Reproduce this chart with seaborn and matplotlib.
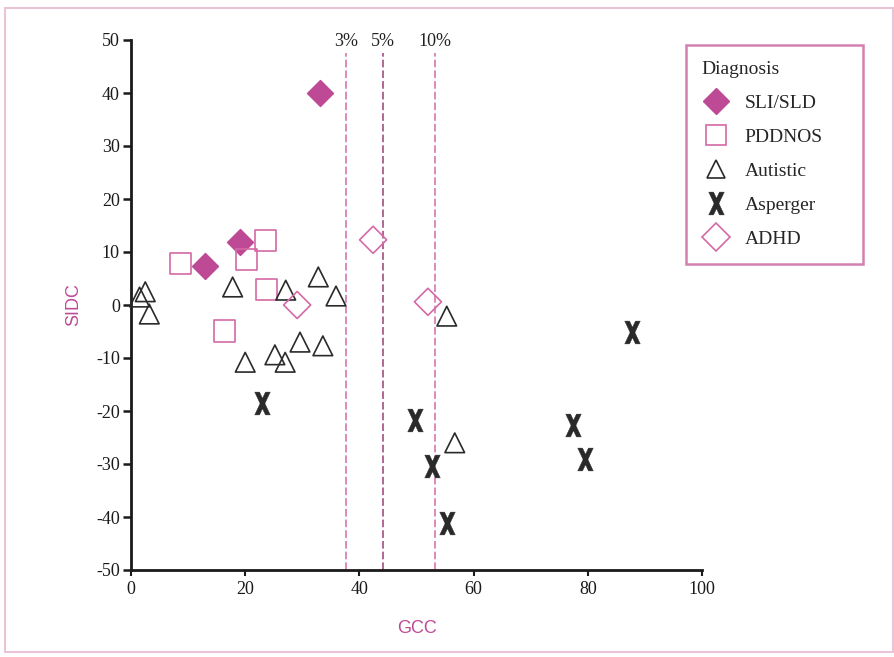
import numpy as np
import pandas as pd
import matplotlib
matplotlib.use("Agg")
import matplotlib.pyplot as plt
import seaborn as sns
from matplotlib.lines import Line2D
from matplotlib.path import Path
from matplotlib.patches import Rectangle

# ---------------- data ----------------
sli_gcc = [33.1, 19.1, 13.0]
sli_sidc = [40.0, 11.9, 7.3]

pdd_gcc = [8.6, 20.3, 23.6, 23.8, 16.3]
pdd_sidc = [7.9, 8.5, 12.1, 3.0, -4.9]

aut_gcc = [1.5, 2.5, 3.2, 17.8, 27.1, 32.8, 35.9, 55.3, 20.0, 25.2, 27.0, 29.6, 33.6, 56.7]
aut_sidc = [1.5, 2.5, -1.7, 3.4, 2.8, 5.3, 1.7, -2.1, -10.8, -9.4, -10.8, -7.0, -7.7, -26.0]

asp_gcc = [22.9, 49.7, 52.7, 55.3, 77.4, 79.5, 87.7]
asp_sidc = [-18.5, -21.7, -30.4, -41.1, -22.6, -29.1, -5.1]

adhd_gcc = [29.1, 42.4, 52.0]
adhd_sidc = [0.0, 12.3, 0.6]

categories = ["SLI/SLD", "PDDNOS", "Autistic", "Asperger", "ADHD"]
cutoff_gcc = [37.7, 44.1, 53.2]
cutoff_labels = ["3%", "5%", "10%"]

x_ticks = [0, 20, 40, 60, 80, 100]
y_ticks = [-50, -40, -30, -20, -10, 0, 10, 20, 30, 40, 50]

# ---------------- styling ----------------
PINK = "#BE4A95"
LINE_PINK = "#D46AA6"
DARK = "#2a2a2a"

sns.set_theme(style="ticks")
plt.rcParams["font.family"] = ["Liberation Serif", "DejaVu Serif"]
plt.rcParams["axes.unicode_minus"] = False

df = pd.concat([
    pd.DataFrame({"GCC": sli_gcc, "SIDC": sli_sidc, "Diagnosis": categories[0]}),
    pd.DataFrame({"GCC": pdd_gcc, "SIDC": pdd_sidc, "Diagnosis": categories[1]}),
    pd.DataFrame({"GCC": aut_gcc, "SIDC": aut_sidc, "Diagnosis": categories[2]}),
    pd.DataFrame({"GCC": asp_gcc, "SIDC": asp_sidc, "Diagnosis": categories[3]}),
    pd.DataFrame({"GCC": adhd_gcc, "SIDC": adhd_sidc, "Diagnosis": categories[4]}),
], ignore_index=True)

# bold letter-like X glyph: two filled strokes with the same winding
_w, _d = 0.68, 0.42
x_path = Path(
    [(-_w, -1), (-_w + _d, -1), (_w, 1), (_w - _d, 1), (-_w, -1),
     (-_w + _d, 1), (-_w, 1), (_w - _d, -1), (_w, -1), (-_w + _d, 1)],
    [Path.MOVETO, Path.LINETO, Path.LINETO, Path.LINETO, Path.CLOSEPOLY,
     Path.MOVETO, Path.LINETO, Path.LINETO, Path.LINETO, Path.CLOSEPOLY])

styles = {
    "SLI/SLD": dict(marker="D", s=175, facecolor=PINK, edgecolor=PINK, linewidth=1.0),
    "PDDNOS": dict(marker="s", s=230, facecolor="none", edgecolor=LINE_PINK, linewidth=1.2),
    "Autistic": dict(marker="^", s=200, facecolor="none", edgecolor=DARK, linewidth=1.2),
    "Asperger": dict(marker=x_path, s=270, facecolor=DARK, edgecolor=DARK, linewidth=0.3),
    "ADHD": dict(marker="D", s=190, facecolor="none", edgecolor=LINE_PINK, linewidth=1.2),
}

fig = plt.figure(figsize=(8.95, 6.57), dpi=100)
ax = fig.add_axes([131 / 895, 1 - 570 / 657, 571 / 895, 530 / 657])

# cut-off lines
ax.vlines(cutoff_gcc, -50, 47.5, colors=[LINE_PINK, "#9A3F78", LINE_PINK],
          linestyles=(0, (5, 2)), linewidth=1.1, zorder=1)
for xv, lab in zip(cutoff_gcc, cutoff_labels):
    ax.text(xv, 49.8, lab, ha="center", va="center", fontsize=13, color="#222222")

for cat in categories:
    sub = df[df["Diagnosis"] == cat]
    sns.scatterplot(data=sub, x="GCC", y="SIDC", ax=ax, legend=False,
                    clip_on=False, zorder=3, **styles[cat])

ax.set_xlim(0, 100)
ax.set_ylim(-50, 50)
ax.set_xticks(x_ticks)
ax.set_yticks(y_ticks)
ax.set_yticklabels([str(v) for v in y_ticks])
sns.despine(ax=ax)
for sp in ["left", "bottom"]:
    ax.spines[sp].set_linewidth(2.0)
    ax.spines[sp].set_color("#1a1a1a")
ax.tick_params(axis="y", direction="out", length=6, width=1.8, labelsize=13,
               colors="#1a1a1a", pad=2)
ax.tick_params(axis="x", direction="out", length=4, width=1.5, labelsize=13,
               colors="#1a1a1a", pad=4)
ax.set_xlabel("GCC", family=["Liberation Sans", "DejaVu Sans"], fontsize=13,
              color=PINK, labelpad=16)
ax.set_ylabel("SIDC", family=["Liberation Sans", "DejaVu Sans"], fontsize=13,
              color=PINK, labelpad=10)

# legend
handles = []
for cat in categories:
    st = styles[cat]
    ms = np.sqrt(st["s"]) * (0.95 if st["marker"] in ("s", "^") else 1.0)
    h = Line2D([], [], linestyle="none", marker=st["marker"], markersize=ms,
               markerfacecolor=st["facecolor"], markeredgecolor=st["edgecolor"],
               markeredgewidth=st["linewidth"])
    handles.append(h)

leg = fig.legend(handles, categories, title="Diagnosis",
                 loc="upper left", bbox_to_anchor=(686 / 895, 1 - 45 / 657, 177 / 895, 0.0),
                 mode="expand", borderaxespad=0.0, frameon=True, fontsize=14,
                 title_fontsize=14, labelspacing=0.85, handletextpad=0.7,
                 borderpad=0.8, handlelength=1.5, alignment="left", fancybox=False)
leg.get_frame().set_edgecolor("#C8609E")
leg.get_frame().set_linewidth(1.8)

# outer frame
fig.patches.append(Rectangle((5 / 895, 5 / 657), 888 / 895, 644 / 657,
                             transform=fig.transFigure, fill=False,
                             edgecolor="#EBC3D6", linewidth=1.5, zorder=0))

fig.savefig("out.png", dpi=100)
